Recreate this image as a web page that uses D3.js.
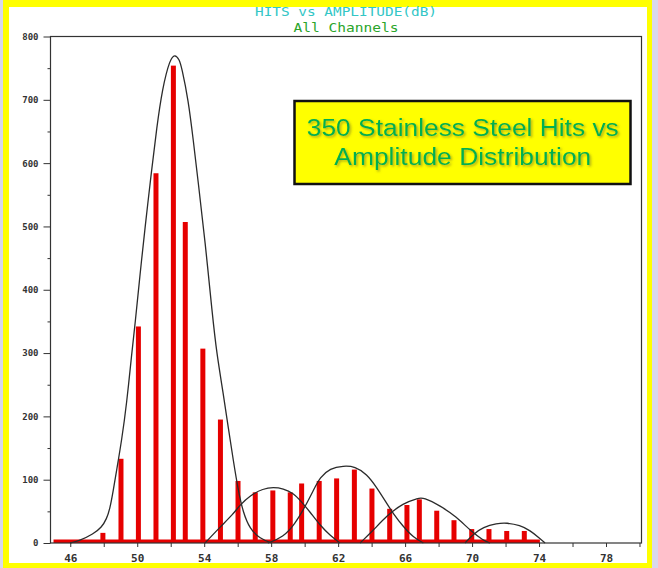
<!DOCTYPE html>
<html>
<head>
<meta charset="utf-8">
<script src="https://cdnjs.cloudflare.com/ajax/libs/d3/7.8.5/d3.min.js"></script>
<style>
    body { margin: 0; background: #d8d8ec; }
    svg { display: block; }
    .axis text { font-family: "DejaVu Sans Mono", monospace; font-weight: bold; fill: #333; }
    .axis line { stroke: #333; }
    .axis path { display: none; }
    .fit { fill: none; stroke: #2b2b2b; stroke-width: 1.3; }
    .bar { fill: #e60000; }
</style>
</head>
<body>
<div id="chart"></div>
<script>
// amplitude bins (dB) and hit counts
var amplitudes = [47.95, 49.03, 50.07, 51.12, 52.16, 52.87, 53.92, 54.97, 56.02, 57.05,
    58.10, 59.14, 59.82, 60.87, 61.91, 62.97, 64.02, 65.08, 66.11, 66.85,
    67.89, 68.92, 69.98, 71.01, 72.07, 73.12];
var hits = [16, 133, 342, 584, 754, 507, 307, 195, 98, 80,
    83, 80, 94, 98, 102, 116, 86, 54, 60, 69,
    51, 36, 22, 22, 19, 19];

// the empty bins along the base line
var baseRange = [45.0, 74.05];

// fitted curves [dB, hits]
var fitMain = [[45.98, 0], [46.58, 4], [47.37, 14], [47.88, 25], [48.17, 38], [48.37, 54],
    [48.57, 83], [48.77, 115], [49.07, 162], [49.37, 220], [49.67, 299], [49.87, 345],
    [50.17, 425], [50.47, 499], [50.86, 589], [51.16, 655], [51.50, 718],
    [51.96, 765], [52.25, 772], [52.51, 764], [52.65, 752], [53.05, 700], [53.35, 636],
    [53.65, 568], [54.05, 478], [54.49, 360], [54.75, 299], [55.14, 236], [55.44, 182],
    [55.74, 130], [56.04, 82], [56.33, 48], [56.73, 22], [57.33, 7], [58.03, 0]];
var fit58 = [[54.05, 0], [54.94, 25], [55.74, 46], [56.14, 60], [56.73, 75], [57.53, 86],
    [58.13, 88], [58.72, 86], [59.32, 79], [59.82, 65], [60.32, 49], [60.92, 28],
    [61.52, 12], [62.11, 0]];
var fit62 = [[57.8, 0], [58.72, 9], [59.42, 30], [60.02, 57], [60.52, 83], [60.92, 104],
    [61.52, 118], [62.31, 122], [63.01, 121], [63.71, 109], [64.30, 88], [64.80, 67],
    [65.30, 46], [65.89, 26], [66.49, 9], [67.09, 0]];
var fit66 = [[63.31, 0], [64.10, 20], [64.90, 43], [65.89, 63], [66.79, 71], [67.09, 72],
    [68.09, 59], [69.08, 41], [69.88, 20], [70.67, 4], [71.07, 0]];
var fit72 = [[69.58, 0], [70.07, 14], [70.67, 25], [71.47, 31], [72.07, 32], [72.86, 28],
    [73.46, 20], [74.06, 7], [74.36, 0]];

// ticks
var yTickValues = [0, 100, 200, 300, 400, 500, 600, 700, 800];
var yMinorTicks = [50, 150, 250, 350, 450, 550, 650, 750];
var xTickValues = [46, 50, 54, 58, 62, 66, 70, 74, 78];
var xMinorTicks = [48, 52, 56, 60, 64, 68, 72, 76, 80];

var titleText = "HITS vs AMPLITUDE(dB)";
var subtitleText = "All Channels";
var noteLines = ["350 Stainless Steel Hits vs", "Amplitude Distribution"];
var noteWidths = [312, 257];

var W = 658, H = 568;
var margin = { top: 36.5, right: 16.5, bottom: 25, left: 50.5 },
    width = W - margin.left - margin.right,
    height = H - margin.top - margin.bottom;

var root = d3.select("#chart")
    .append("svg")
    .attr("width", W)
    .attr("height", H);

// shadow for the note text
root.append("defs")
    .append("filter")
    .attr("id", "shadow")
    .attr("x", "-10%").attr("y", "-20%")
    .attr("width", "120%").attr("height", "150%")
    .append("feDropShadow")
    .attr("dx", 1.5).attr("dy", 1.5)
    .attr("stdDeviation", 0.8)
    .attr("flood-color", "#6b6b2a")
    .attr("flood-opacity", 0.55);

// yellow border and white page
root.append("rect")
    .attr("x", 3).attr("y", 0)
    .attr("width", 649).attr("height", H)
    .attr("fill", "#ffff00");
root.append("rect")
    .attr("x", 9).attr("y", 7)
    .attr("width", 638).attr("height", 556)
    .attr("fill", "#fff");

// titles
root.append("text")
    .attr("x", margin.left + width / 2)
    .attr("y", 16)
    .attr("text-anchor", "middle")
    .attr("textLength", 182)
    .attr("lengthAdjust", "spacingAndGlyphs")
    .style("font-family", "'DejaVu Sans Mono', monospace")
    .style("font-size", "11.5px")
    .style("fill", "#33c6c6")
    .text(titleText);

root.append("text")
    .attr("x", margin.left + width / 2)
    .attr("y", 31.5)
    .attr("text-anchor", "middle")
    .attr("textLength", 105)
    .attr("lengthAdjust", "spacingAndGlyphs")
    .style("font-family", "'DejaVu Sans Mono', monospace")
    .style("font-size", "11.5px")
    .style("fill", "#2aa52a")
    .text(subtitleText);

var svg = root.append("g")
    .attr("transform", "translate(" + margin.left + "," + margin.top + ")");

var x = d3.scaleLinear()
    .domain([44.82, 80.12])
    .range([0, width]);

var y = d3.scaleLinear()
    .domain([0, 800])
    .range([height, 0]);

// Y axis, major and minor ticks
svg.append("g")
    .attr("class", "axis")
    .call(d3.axisLeft(y)
        .tickValues(yTickValues)
        .tickSize(7)
        .tickPadding(5))
    .selectAll("text")
    .style("font-size", "9px");

svg.append("g")
    .attr("class", "axis")
    .call(d3.axisLeft(y)
        .tickValues(yMinorTicks)
        .tickSize(3)
        .tickFormat(""));

// X axis
svg.append("g")
    .attr("class", "axis")
    .attr("transform", "translate(0," + height + ")")
    .call(d3.axisBottom(x)
        .tickValues(xTickValues)
        .tickSize(4)
        .tickPadding(7))
    .selectAll("text")
    .style("font-size", "11px");

svg.append("g")
    .attr("class", "axis")
    .attr("transform", "translate(0," + height + ")")
    .call(d3.axisBottom(x)
        .tickValues(xMinorTicks)
        .tickSize(4)
        .tickFormat(""));

// red base line of the empty bins
svg.append("rect")
    .attr("class", "bar")
    .attr("x", x(baseRange[0]))
    .attr("y", height - 3.5)
    .attr("width", x(baseRange[1]) - x(baseRange[0]))
    .attr("height", 3.5);

// bars
var barW = 5;
svg.append("g")
    .selectAll("rect")
    .data(amplitudes)
    .enter()
    .append("rect")
    .attr("class", "bar")
    .attr("x", function (d) { return x(d) - barW / 2; })
    .attr("y", function (d, i) { return y(hits[i]); })
    .attr("width", barW)
    .attr("height", function (d, i) { return height - y(hits[i]); });

// fitted curves
var fitLine = d3.line()
    .curve(d3.curveBasis)
    .x(function (d) { return x(d[0]); })
    .y(function (d) { return y(d[1]); });

svg.append("g")
    .selectAll("path")
    .data([fitMain, fit58, fit62, fit66, fit72])
    .enter()
    .append("path")
    .attr("class", "fit")
    .attr("d", fitLine);

// plot frame
svg.append("rect")
    .attr("width", width)
    .attr("height", height)
    .attr("fill", "none")
    .attr("stroke", "#333")
    .attr("stroke-width", 1.2);

// note box
var note = root.append("g");
note.append("rect")
    .attr("x", 294.5).attr("y", 101)
    .attr("width", 336).attr("height", 83)
    .attr("fill", "#ffff00")
    .attr("stroke", "#111")
    .attr("stroke-width", 2.5);

note.selectAll("text")
    .data(noteLines)
    .enter()
    .append("text")
    .attr("x", 462.8)
    .attr("y", function (d, i) { return 136 + i * 29; })
    .attr("text-anchor", "middle")
    .attr("textLength", function (d, i) { return noteWidths[i]; })
    .attr("lengthAdjust", "spacingAndGlyphs")
    .attr("filter", "url(#shadow)")
    .style("font-family", "'Liberation Sans', Arial, sans-serif")
    .style("font-size", "23px")
    .style("fill", "#00b050")
    .text(function (d) { return d; });
</script>
</body>
</html>
